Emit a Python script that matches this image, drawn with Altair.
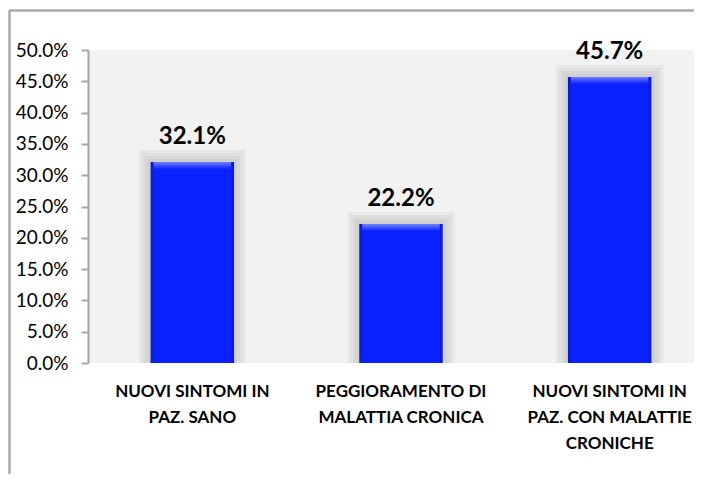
import altair as alt
import pandas as pd
import json

categories = [
    "NUOVI SINTOMI IN PAZ. SANO",
    "PEGGIORAMENTO DI MALATTIA CRONICA",
    "NUOVI SINTOMI IN PAZ. CON MALATTIE CRONICHE",
]
label_lines = [
    "NUOVI SINTOMI IN\nPAZ. SANO",
    "PEGGIORAMENTO DI\nMALATTIA CRONICA",
    "NUOVI SINTOMI IN\nPAZ. CON MALATTIE\nCRONICHE",
]
values = [0.321, 0.222, 0.457]
y_ticks = [0.0, 0.05, 0.10, 0.15, 0.20, 0.25, 0.30, 0.35, 0.40, 0.45, 0.50]
boundaries = [0, 1, 2, 3]

df = pd.DataFrame({"cat": categories, "lab": label_lines, "v": values})
bdf = pd.DataFrame({"b": boundaries})

W, H = 606, 313
FONT = "Lato"
GRAY = "#a6a6a6"
cats_js = json.dumps(categories)

xscale = alt.Scale(domain=[0, 3], range=[0, 626], nice=False, zero=False)
yq = alt.Y("v:Q", scale=alt.Scale(domain=[0, 0.5], nice=False),
           axis=alt.Axis(values=y_ticks, format=".1%", title=None, grid=False,
                         domainColor=GRAY, domainWidth=2, tickColor=GRAY,
                         tickWidth=2, tickSize=7, labelPadding=13,
                         labelFont=FONT, labelFontSize=19, labelColor="black"))

base = alt.Chart(df).transform_calculate(
    idx=f"indexof({cats_js}, datum.cat)"
).transform_calculate(
    lo="datum.idx + 0.3", hi="datum.idx + 0.7", mid="datum.idx + 0.5"
)
xlo = alt.X("lo:Q", scale=xscale, axis=None)
xhi = alt.X2("hi:Q")

shadows = [
    base.mark_bar(color="#9a9a9a", opacity=0.11, xOffset=-o, x2Offset=o, yOffset=-o)
    .encode(x=xlo, x2=xhi, y=yq, y2=alt.datum(0))
    for o in (12, 9, 6, 3)
]

bar_fill = alt.Gradient(
    gradient="linear", x1=0, x2=1, y1=0, y2=0,
    stops=[alt.GradientStop(color="#0a1ac0", offset=0),
           alt.GradientStop(color="#0a22ff", offset=0.05),
           alt.GradientStop(color="#0a22ff", offset=0.95),
           alt.GradientStop(color="#0a1ac0", offset=1)])
bars = base.mark_bar(fill=bar_fill).encode(x=xlo, x2=xhi, y=yq, y2=alt.datum(0))

hl_fill = alt.Gradient(
    gradient="linear", x1=0, x2=0, y1=0, y2=1,
    stops=[alt.GradientStop(color="#7282ff", offset=0),
           alt.GradientStop(color="#0a22ff", offset=1)])
highlight = base.mark_bar(fill=hl_fill, xOffset=3, x2Offset=-3, y2Offset=7).encode(
    x=xlo, x2=xhi, y=yq, y2="v:Q")

value_text = base.mark_text(font=FONT, fontSize=24, fontWeight="bold", color="black",
                            baseline="bottom", dy=-13).encode(
    x=alt.X("mid:Q", scale=xscale, axis=None), y=yq,
    text=alt.Text("v:Q", format=".1%"))

cat_text = base.mark_text(font=FONT, fontSize=17, fontWeight="bold", color="black",
                          baseline="top", lineBreak="\n", lineHeight=26).encode(
    x=alt.X("mid:Q", scale=xscale, axis=None), y=alt.value(H + 21), text="lab:N")

xticks = alt.Chart(bdf).mark_point(opacity=0).encode(
    x=alt.X("b:Q", scale=xscale,
            axis=alt.Axis(values=boundaries, labels=False, title=None, grid=False,
                          domainColor=GRAY, domainWidth=2, tickColor=GRAY,
                          tickWidth=2, tickSize=7)),
    y=alt.value(H))

frame_left = alt.Chart(bdf).mark_rule(color=GRAY, strokeWidth=1.5).encode(
    x=alt.value(-78.5), y=alt.value(-39.5), y2=alt.value(H + 300))
frame_top = alt.Chart(bdf).mark_rule(color=GRAY, strokeWidth=1.5).encode(
    x=alt.value(-78.5), x2=alt.value(W + 300), y=alt.value(-39.5))

chart = alt.layer(
    *shadows, bars, highlight, value_text, cat_text, xticks, frame_left, frame_top
).properties(
    width=W, height=H,
    autosize=alt.AutoSizeParams(type="none"),
    padding={"left": 80, "top": 42, "right": 0, "bottom": 111},
).configure_view(fill="#f2f2f2", stroke=None)

chart.save("out.html", embed_options={"renderer": "svg", "actions": False})
